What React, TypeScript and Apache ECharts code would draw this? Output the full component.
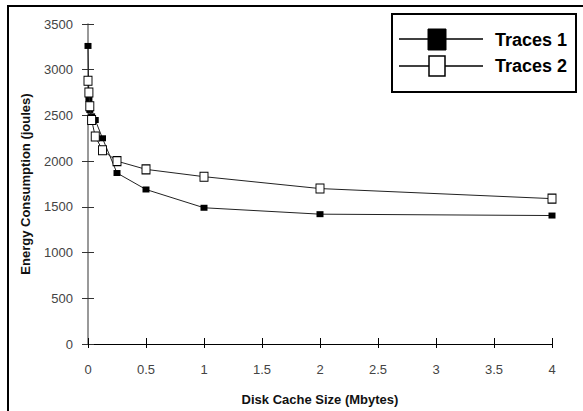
import React, { useEffect, useRef } from "react";
import * as echarts from "echarts";

const cacheSizes1: number[] = [0, 0.0078, 0.0156, 0.03125, 0.0625, 0.125, 0.25, 0.5, 1, 2, 4];
const traces1: number[] = [3260, 2680, 2560, 2490, 2450, 2250, 1870, 1690, 1490, 1420, 1405];
const cacheSizes2: number[] = [0, 0.0078, 0.0156, 0.03125, 0.0625, 0.125, 0.25, 0.5, 1, 2, 4];
const traces2: number[] = [2880, 2750, 2600, 2450, 2270, 2120, 2000, 1910, 1830, 1700, 1590];
const seriesNames: string[] = ["Traces 1", "Traces 2"];

export default function App() {
  const ref = useRef<HTMLDivElement>(null);
  useEffect(() => {
    if (!ref.current) return;
    const chart = echarts.init(ref.current, undefined, { renderer: "svg" });
    const labelFont = { fontFamily: "Liberation Sans", fontSize: 13, color: "#444" };
    const nameFont = { fontFamily: "Liberation Sans", fontSize: 13, fontWeight: "bold" as const, color: "#111" };
    chart.setOption({
      animation: false,
      backgroundColor: "#fff",
      grid: { left: 88, top: 24, right: 31, bottom: 60, containLabel: false },
      xAxis: [
        {
          type: "value",
          min: 0,
          max: 4,
          interval: 0.5,
          position: "bottom",
          name: "Disk Cache Size (Mbytes)",
          nameLocation: "middle",
          nameGap: 49,
          nameTextStyle: nameFont,
          axisLine: { show: true, onZero: false, lineStyle: { color: "#000", width: 1 } },
          axisTick: { show: false },
          axisLabel: { ...labelFont, margin: 19, formatter: (v: number) => String(v) },
          splitLine: { show: false },
        },
        {
          type: "value",
          min: 0,
          max: 4,
          interval: 0.5,
          position: "bottom",
          offset: -6,
          axisLine: { show: false, onZero: false },
          axisTick: { show: true, inside: false, length: 10, lineStyle: { color: "#000" } },
          axisLabel: { show: false },
          splitLine: { show: false },
        },
      ],
      yAxis: [
        {
          type: "value",
          min: 0,
          max: 3500,
          interval: 500,
          position: "left",
          name: "Energy Consumption (joules)",
          nameLocation: "middle",
          nameGap: 56,
          nameTextStyle: nameFont,
          axisLine: { show: true, onZero: false, lineStyle: { color: "#777", width: 1.5 } },
          axisTick: { show: false },
          axisLabel: { ...labelFont, margin: 15, formatter: (v: number) => String(v) },
          splitLine: { show: false },
        },
        {
          type: "value",
          min: 0,
          max: 3500,
          interval: 500,
          position: "left",
          offset: -6,
          axisLine: { show: false, onZero: false },
          axisTick: { show: true, inside: false, length: 12, lineStyle: { color: "#333" } },
          axisLabel: { show: false },
          splitLine: { show: false },
        },
      ],
      series: [
        {
          name: seriesNames[0],
          type: "line",
          xAxisIndex: 0,
          yAxisIndex: 0,
          data: cacheSizes1.map((x, i) => [x, traces1[i]]),
          symbol: "rect",
          symbolSize: [7, 6],
          showAllSymbol: true,
          lineStyle: { color: "#222", width: 1 },
          itemStyle: { color: "#000", borderColor: "#000", borderWidth: 0 },
          z: 2,
        },
        {
          name: seriesNames[1],
          type: "line",
          xAxisIndex: 0,
          yAxisIndex: 0,
          data: cacheSizes2.map((x, i) => [x, traces2[i]]),
          symbol: "rect",
          symbolSize: [8, 9],
          showAllSymbol: true,
          lineStyle: { color: "#222", width: 1 },
          itemStyle: { color: "#fff", borderColor: "#000", borderWidth: 1 },
          z: 3,
        },
      ],
      graphic: [
        {
          type: "rect",
          shape: { x: 8, y: 6, width: 620, height: 440 },
          style: { fill: "none", stroke: "#000", lineWidth: 2 },
          silent: true,
          z: 0,
        },
        {
          type: "group",
          z: 10,
          children: [
            {
              type: "rect",
              shape: { x: 392, y: 14, width: 184, height: 78 },
              style: { fill: "#fff", stroke: "#000", lineWidth: 2 },
            },
            {
              type: "line",
              shape: { x1: 399, y1: 39, x2: 483, y2: 39 },
              style: { stroke: "#000", lineWidth: 1.5 },
            },
            {
              type: "rect",
              shape: { x: 428, y: 29, width: 18, height: 21 },
              style: { fill: "#000", stroke: "#000", lineWidth: 1 },
            },
            {
              type: "text",
              x: 495,
              y: 40,
              style: {
                text: seriesNames[0],
                fontFamily: "Liberation Sans",
                fontSize: 18,
                fontWeight: "bold",
                fill: "#000",
                verticalAlign: "middle",
                align: "left",
              },
            },
            {
              type: "line",
              shape: { x1: 399, y1: 66, x2: 483, y2: 66 },
              style: { stroke: "#000", lineWidth: 1.5 },
            },
            {
              type: "rect",
              shape: { x: 429, y: 56, width: 16, height: 20 },
              style: { fill: "#fff", stroke: "#000", lineWidth: 1.5 },
            },
            {
              type: "text",
              x: 495,
              y: 66,
              style: {
                text: seriesNames[1],
                fontFamily: "Liberation Sans",
                fontSize: 18,
                fontWeight: "bold",
                fill: "#000",
                verticalAlign: "middle",
                align: "left",
              },
            },
          ],
        },
      ],
    });
    return () => chart.dispose();
  }, []);
  return <div ref={ref} style={{ width: 583, height: 411, position: "absolute", left: 0, top: 0 }} />;
}
